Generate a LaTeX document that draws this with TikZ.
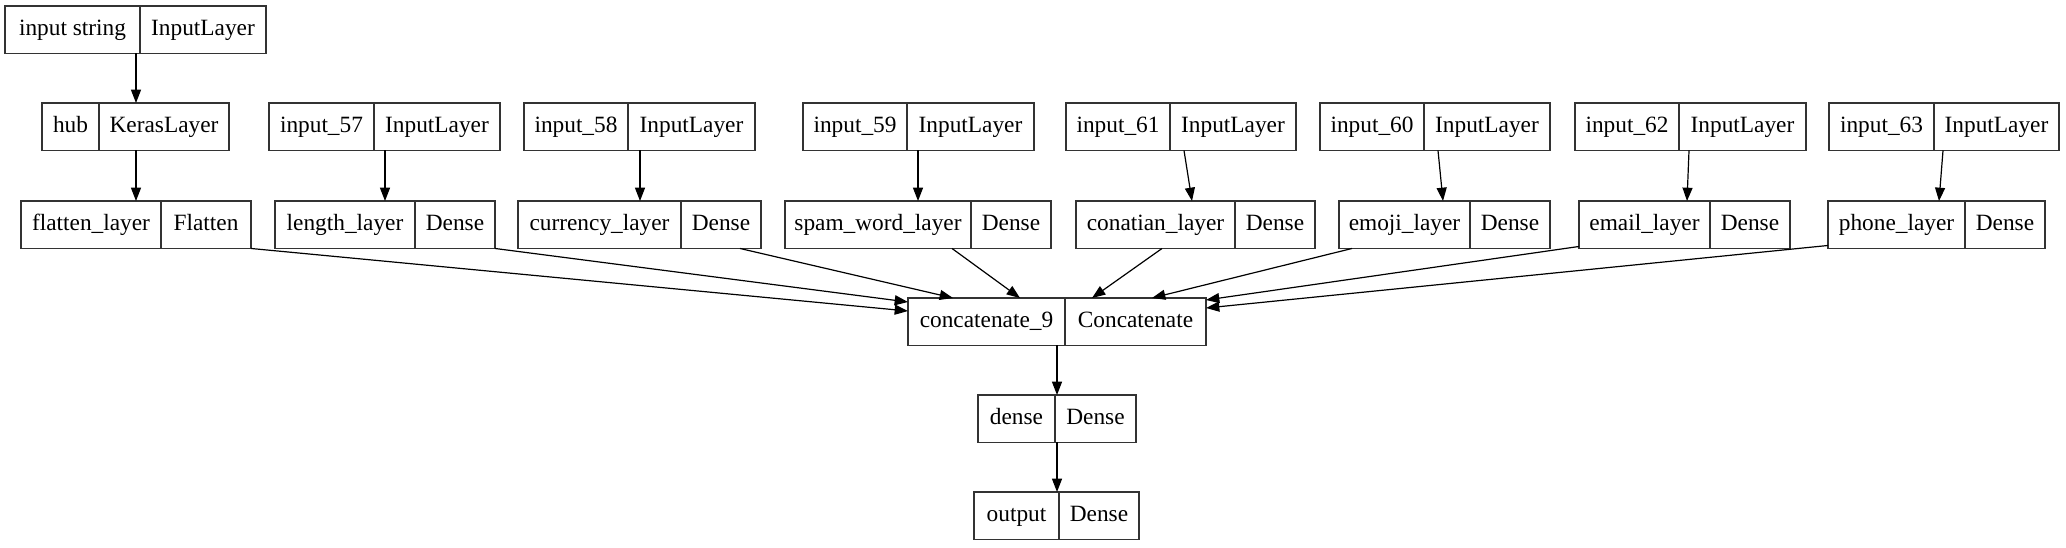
\documentclass[tikz,border=0pt]{standalone}
\usepackage{fontspec}
\setmainfont{Liberation Serif}
\usetikzlibrary{arrows.meta}
\newcommand\pxu{0.75pt}
\tikzset{
  cell/.style={draw=black!80, line width=1.1pt, inner sep=0pt, outer sep=0pt,
    minimum height=35.6pt, text height=12.5pt, text depth=4pt,
    font=\fontsize{17.5}{20}\selectfont, text=black},
  recbox/.style={inner sep=0pt, outer sep=0pt, minimum height=35.6pt},
  edge/.style={draw=black, line width=0.9pt, -{Triangle[length=10pt,width=7.5pt]}}
}
\newcommand\mkrec[7]{%
  \node[recbox, minimum width={(#4-#2)*0.75pt}, anchor=north west] (#1) at (#2,#5) {};
  \node[cell, minimum width={(#3-#2)*0.75pt}, anchor=north west] (#1-a) at (#2,#5) {#6};
  \node[cell, minimum width={(#4-#3)*0.75pt}, anchor=north west] (#1-b) at (#3,#5) {#7};
}
\begin{document}
\begin{tikzpicture}[x=0.75pt, y=-0.75pt]
\useasboundingbox (0,0) rectangle (2066,547);
% row 1
\mkrec{ins}{5}{140}{266}{6}{input string}{InputLayer}
% row 2
\mkrec{hub}{42}{99}{229}{103}{hub}{KerasLayer}
\mkrec{i57}{269}{374}{500}{103}{input\_57}{InputLayer}
\mkrec{i58}{524}{628}{755}{103}{input\_58}{InputLayer}
\mkrec{i59}{803}{907}{1034}{103}{input\_59}{InputLayer}
\mkrec{i61}{1066}{1170}{1296}{103}{input\_61}{InputLayer}
\mkrec{i60}{1320}{1424}{1550}{103}{input\_60}{InputLayer}
\mkrec{i62}{1575}{1679}{1806}{103}{input\_62}{InputLayer}
\mkrec{i63}{1829}{1934}{2059}{103}{input\_63}{InputLayer}
% row 3
\mkrec{flat}{21}{161}{251}{201}{flatten\_layer}{Flatten}
\mkrec{len}{275}{415}{495}{201}{length\_layer}{Dense}
\mkrec{cur}{518}{681}{761}{201}{currency\_layer}{Dense}
\mkrec{spam}{785}{971}{1051}{201}{spam\_word\_layer}{Dense}
\mkrec{con}{1076}{1235}{1315}{201}{conatian\_layer}{Dense}
\mkrec{emo}{1339}{1470}{1550}{201}{emoji\_layer}{Dense}
\mkrec{eml}{1579}{1710}{1790}{201}{email\_layer}{Dense}
\mkrec{pho}{1828}{1965}{2045}{201}{phone\_layer}{Dense}
% lower
\mkrec{cat}{908}{1065}{1206}{298}{concatenate\_9}{Concatenate}
\mkrec{den}{978}{1055}{1136}{395}{dense}{Dense}
\mkrec{out}{974}{1059}{1139}{492}{output}{Dense}
% edges
\draw[edge] ([xshift=131*\pxu]ins.south west) -- ([xshift=94*\pxu]hub.north west);
\draw[edge] ([xshift=94*\pxu]hub.south west) -- ([xshift=115*\pxu]flat.north west);
\draw[edge] ([xshift=116*\pxu]i57.south west) -- ([xshift=110*\pxu]len.north west);
\draw[edge] ([xshift=116*\pxu]i58.south west) -- ([xshift=122*\pxu]cur.north west);
\draw[edge] ([xshift=115*\pxu]i59.south west) -- ([xshift=133*\pxu]spam.north west);
\draw[edge] ([xshift=118*\pxu]i61.south west) -- ([xshift=116*\pxu]con.north west);
\draw[edge] ([xshift=118*\pxu]i60.south west) -- ([xshift=104*\pxu]emo.north west);
\draw[edge] ([xshift=114*\pxu]i62.south west) -- ([xshift=108*\pxu]eml.north west);
\draw[edge] ([xshift=114*\pxu]i63.south west) -- ([xshift=111*\pxu]pho.north west);
\draw[edge] (flat.south east) -- ([yshift=-13*\pxu]cat.north west);
\draw[edge] (len.south east) -- ([yshift=-4*\pxu]cat.north west);
\draw[edge] ([xshift=222*\pxu]cur.south west) -- ([xshift=45*\pxu]cat.north west);
\draw[edge] ([xshift=167*\pxu]spam.south west) -- ([xshift=112*\pxu]cat.north west);
\draw[edge] ([xshift=86*\pxu]con.south west) -- ([xshift=184*\pxu]cat.north west);
\draw[edge] ([xshift=13*\pxu]emo.south west) -- ([xshift=244*\pxu]cat.north west);
\draw[edge] ([yshift=2*\pxu]eml.south west) -- ([yshift=-2*\pxu]cat.north east);
\draw[edge] ([yshift=3*\pxu]pho.south west) -- ([yshift=-10*\pxu]cat.north east);
\draw[edge] ([xshift=149*\pxu]cat.south west) -- ([xshift=79*\pxu]den.north west);
\draw[edge] ([xshift=79*\pxu]den.south west) -- ([xshift=83*\pxu]out.north west);
\end{tikzpicture}
\end{document}
